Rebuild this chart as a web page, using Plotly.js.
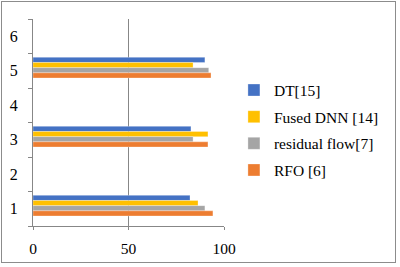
<!DOCTYPE html>
<html>
<head>
<meta charset="utf-8">
<script src="https://cdn.plot.ly/plotly-3.0.1.min.js"></script>
<style>
html,body{margin:0;padding:0;background:#fff;}
#wrap{position:relative;width:400px;height:267px;}
#chart{width:400px;height:267px;}
#frame{position:absolute;left:1px;top:1px;width:393px;height:260px;border:1.5px solid #8c8c8c;pointer-events:none;}
</style>
</head>
<body>
<div id="wrap"><div id="chart"></div><div id="frame"></div></div>
<script>
// Data
const categories = [1, 3, 5];
const yTickVals = [1, 2, 3, 4, 5, 6];
const xTickVals = [0, 50, 100];
const dt = [82.2, 82.7, 90.0];
const fusedDNN = [86.4, 91.6, 83.8];
const residualFlow = [90.0, 83.8, 92.0];
const rfo = [94.2, 91.6, 93.2];
const seriesNames = ['DT[15]', 'Fused DNN [14]', 'residual flow[7]', 'RFO [6]'];
const seriesValues = [dt, fusedDNN, residualFlow, rfo];
const seriesColors = ['#4472C4', '#FFC000', '#A5A5A5', '#ED7D31'];
const barOffsets = [0.24, 0.09, -0.06, -0.21];

const traces = seriesValues.map((vals, i) => ({
  type: 'bar',
  orientation: 'h',
  name: seriesNames[i],
  legendgroup: seriesNames[i],
  x: vals,
  y: categories,
  width: 0.15,
  offset: barOffsets[i],
  marker: {color: seriesColors[i], line: {color: 'rgba(255,255,255,0.6)', width: 0.5}},
  hoverinfo: 'x+name'
}));

const layout = {
  width: 400, height: 267,
  margin: {l: 33, r: 176, t: 19, b: 41},
  paper_bgcolor: '#fff', plot_bgcolor: '#fff',
  font: {family: '"Liberation Serif", "Times New Roman", serif', color: '#000'},
  showlegend: true,
  legend: {
    x: 1.052, xanchor: 'left', y: 0.737, yanchor: 'top',
    traceorder: 'grouped', tracegroupgap: 3.5,
    font: {size: 15.5, color: '#000'},
    itemwidth: 30, bgcolor: 'rgba(0,0,0,0)'
  },
  xaxis: {
    range: [0, 100], tickvals: xTickVals, ticktext: xTickVals.map(String),
    showgrid: true, gridcolor: '#878787', gridwidth: 1,
    zeroline: false, showline: true, linecolor: '#878787', linewidth: 1,
    ticks: 'outside', ticklen: 3, tickcolor: '#878787',
    tickfont: {size: 15.5}, ticklabelstandoff: 5, fixedrange: true
  },
  yaxis: {
    range: [0.5, 6.5], tickvals: yTickVals, ticktext: yTickVals.map(String),
    showgrid: false, zeroline: false, showline: true, linecolor: '#878787', linewidth: 1,
    ticks: '', tickfont: {size: 16}, ticklabelstandoff: 11,
    minor: {tickvals: [0.5, 1.5, 2.5, 3.5, 4.5, 5.5, 6.5], ticks: 'outside', ticklen: 4, tickcolor: '#878787', showgrid: false},
    fixedrange: true
  },
  bargap: 0.4
};

Plotly.newPlot('chart', traces, layout, {displayModeBar: false, staticPlot: true});
</script>
</body>
</html>
